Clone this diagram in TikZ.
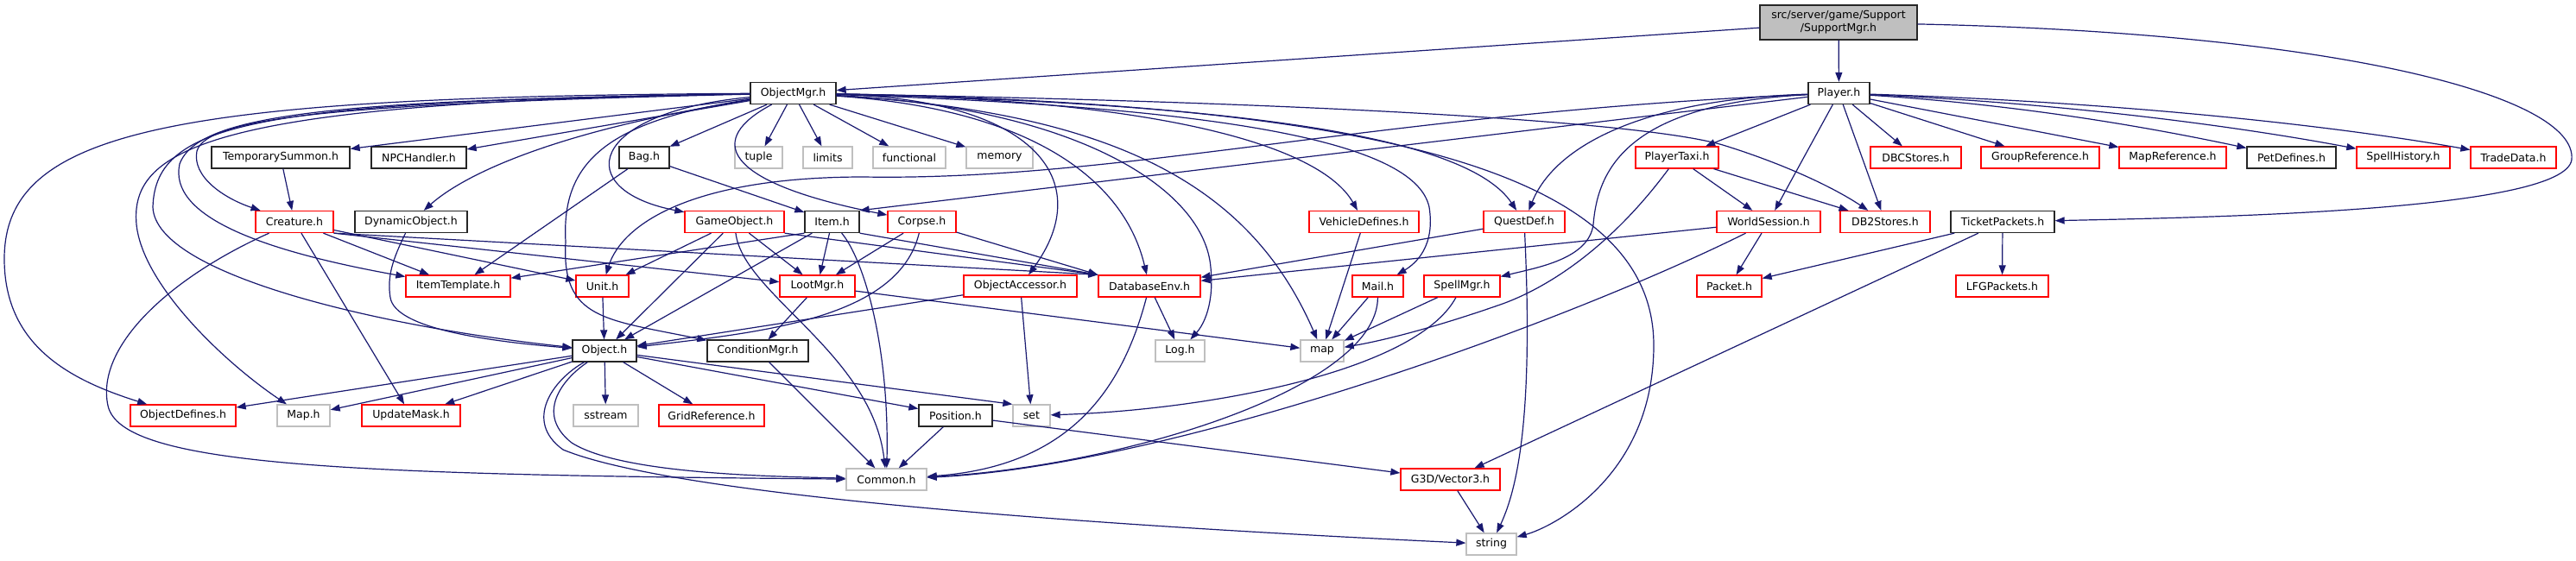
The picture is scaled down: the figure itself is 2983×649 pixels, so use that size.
\documentclass[tikz,border=0pt]{standalone}
\usepackage{fontspec}
\setmainfont{DejaVu Sans}
\usetikzlibrary{arrows.meta}
\definecolor{navy}{HTML}{191970}
\definecolor{gray75}{HTML}{BFBFBF}
\begin{document}
\begin{tikzpicture}[x=1pt,y=-1pt,
  box/.style={draw, line width=1.3pt, fill=white, minimum height=25pt, inner sep=0pt, font=\fontsize{12.5}{15}\selectfont, text=black},
  bk/.style={box, draw=black!85},
  rd/.style={box, draw=red},
  gy/.style={box, draw=gray75},
  ar/.style={draw=navy, line width=1.2pt, -{Triangle[length=11pt,width=8pt]}}
]
\fill[white] (0,0) rectangle (2983,649);
\useasboundingbox (0,0) rectangle (2983,649);
% nodes
\node[bk, minimum width=182pt, minimum height=40pt, fill=gray75, align=center] (sup) at (2129,26) {src/server/game/Support\\/SupportMgr.h};
\node[bk, minimum width=99pt] (om) at (918.5,108) {ObjectMgr.h};
\node[bk, minimum width=71pt] (pl) at (2129.5,108) {Player.h};
\node[bk, minimum width=160pt] (ts) at (325,182.5) {TemporarySummon.h};
\node[bk, minimum width=110pt] (npc) at (485,182.5) {NPCHandler.h};
\node[bk, minimum width=58pt] (bag) at (746,182.5) {Bag.h};
\node[gy, minimum width=55pt] (tup) at (878.5,182.5) {tuple};
\node[gy, minimum width=57pt] (lim) at (958.5,182.5) {limits};
\node[gy, minimum width=84pt] (fun) at (1053,182.5) {functional};
\node[gy, minimum width=77pt] (mem) at (1157.5,182.5) {memory};
\node[rd, minimum width=96pt] (ptx) at (1942,182.5) {PlayerTaxi.h};
\node[rd, minimum width=105pt] (dbc) at (2218.5,182.5) {DBCStores.h};
\node[rd, minimum width=137pt] (grp) at (2362.5,182.5) {GroupReference.h};
\node[rd, minimum width=124pt] (mapr) at (2516,182.5) {MapReference.h};
\node[bk, minimum width=103pt] (pet) at (2653.5,182.5) {PetDefines.h};
\node[rd, minimum width=108pt] (sph) at (2783,182.5) {SpellHistory.h};
\node[rd, minimum width=99pt] (trd) at (2910.5,182.5) {TradeData.h};
\node[rd, minimum width=90pt] (cr) at (341,257) {Creature.h};
\node[bk, minimum width=130pt] (dyn) at (476,257) {DynamicObject.h};
\node[rd, minimum width=115pt] (go) at (850.5,257) {GameObject.h};
\node[bk, minimum width=63pt] (item) at (963.5,257) {Item.h};
\node[rd, minimum width=79pt] (co) at (1067.5,257) {Corpse.h};
\node[rd, minimum width=127pt] (vd) at (1579.5,257) {VehicleDefines.h};
\node[rd, minimum width=94pt] (qd) at (1765,257) {QuestDef.h};
\node[rd, minimum width=120pt] (ws) at (2048,257) {WorldSession.h};
\node[rd, minimum width=104pt] (db2) at (2183,257) {DB2Stores.h};
\node[bk, minimum width=120pt] (tp) at (2319,257) {TicketPackets.h};
\node[rd, minimum width=121pt] (it) at (530.5,331.5) {ItemTemplate.h};
\node[rd, minimum width=61pt] (unit) at (697.5,331.5) {Unit.h};
\node[rd, minimum width=87pt] (lm) at (946.5,331.5) {LootMgr.h};
\node[rd, minimum width=131pt] (oa) at (1181.5,331.5) {ObjectAccessor.h};
\node[rd, minimum width=118pt] (db) at (1331,331.5) {DatabaseEnv.h};
\node[rd, minimum width=59pt] (mail) at (1595.5,331.5) {Mail.h};
\node[rd, minimum width=88pt] (sm) at (1693,331.5) {SpellMgr.h};
\node[rd, minimum width=75pt] (pk) at (2002.5,331.5) {Packet.h};
\node[rd, minimum width=107pt] (lfg) at (2318.5,331.5) {LFGPackets.h};
\node[bk, minimum width=74pt] (obj) at (700,406.5) {Object.h};
\node[bk, minimum width=117pt] (cm) at (877.5,406.5) {ConditionMgr.h};
\node[gy, minimum width=57pt] (log) at (1366.5,406.5) {Log.h};
\node[gy, minimum width=50pt] (map) at (1531,406.5) {map};
\node[rd, minimum width=122pt] (od) at (212,481.5) {ObjectDefines.h};
\node[gy, minimum width=61pt] (maph) at (351.5,481.5) {Map.h};
\node[rd, minimum width=114pt] (um) at (476,481.5) {UpdateMask.h};
\node[gy, minimum width=75pt] (sst) at (701.5,481.5) {sstream};
\node[rd, minimum width=122pt] (grid) at (824,481.5) {GridReference.h};
\node[bk, minimum width=85pt] (pos) at (1106.5,481.5) {Position.h};
\node[gy, minimum width=43pt] (set) at (1194.5,481.5) {set};
\node[gy, minimum width=93pt] (com) at (1026.5,555.5) {Common.h};
\node[rd, minimum width=115pt] (g3d) at (1679.5,555.5) {G3D/Vector3.h};
\node[gy, minimum width=58pt] (str) at (1727,630.5) {string};
% SupportMgr
\draw[ar] (sup) -- (om);
\draw[ar] (sup) -- (pl);
\draw[ar] (sup) .. controls (2700,38) and (2985,110) .. (2978,185) .. controls (2970,245) and (2550,252) .. (tp);
% ObjectMgr
\draw[ar] (om) -- (ts);
\draw[ar] (om) -- (npc);
\draw[ar] (om) .. controls (400,120) and (240,135) .. (228,175) .. controls (222,205) and (260,230) .. (cr);
\draw[ar] (om) .. controls (650,150) and (540,200) .. (dyn);
\draw[ar] (om) -- (bag);
\draw[ar] (om) -- (tup);
\draw[ar] (om) -- (lim);
\draw[ar] (om) -- (fun);
\draw[ar] (om) -- (mem);
\draw[ar] (om) .. controls (680,130) and (660,220) .. (go);
\draw[ar] (om) .. controls (820,160) and (830,210) .. (co);
\draw[ar] (om) .. controls (400,116) and (230,130) .. (208,190) .. controls (195,250) and (300,290) .. (it);
\draw[ar] (om) .. controls (300,118) and (180,140) .. (177,240) .. controls (180,320) and (450,380) .. (obj);
\draw[ar] (om) .. controls (200,112) and (5,150) .. (5,300) .. controls (5,400) and (80,440) .. (od);
\draw[ar] (om) .. controls (250,118) and (150,170) .. (158,260) .. controls (165,330) and (260,420) .. (maph);
\draw[ar] (om) .. controls (700,140) and (650,190) .. (655,280) .. controls (650,370) and (700,370) .. (cm);
\draw[ar] (om) .. controls (1200,115) and (1270,210) .. (oa);
\draw[ar] (om) .. controls (1180,125) and (1300,200) .. (db);
\draw[ar] (om) .. controls (1250,125) and (1395,220) .. (1402,310) .. controls (1406,350) and (1395,375) .. (log);
\draw[ar] (om) .. controls (1350,115) and (1530,170) .. (vd);
\draw[ar] (om) .. controls (1450,120) and (1700,160) .. (qd);
\draw[ar] (om) .. controls (1450,125) and (1640,170) .. (1655,240) .. controls (1662,285) and (1640,305) .. (mail);
\draw[ar] (om) .. controls (1500,118) and (1900,140) .. (1995,168) .. controls (2060,188) and (2120,215) .. (db2);
\draw[ar] (om) .. controls (1300,130) and (1450,220) .. (map);
\draw[ar] (om) .. controls (1600,120) and (1915,200) .. (1915,400) .. controls (1915,550) and (1800,610) .. (str);
% Player
\draw[ar] (pl) -- (ptx);
\draw[ar] (pl) -- (ws);
\draw[ar] (pl) -- (db2);
\draw[ar] (pl) -- (dbc);
\draw[ar] (pl) -- (grp);
\draw[ar] (pl) -- (mapr);
\draw[ar] (pl) .. controls (2350,122) and (2500,150) .. (pet);
\draw[ar] (pl) .. controls (2400,120) and (2600,148) .. (sph);
\draw[ar] (pl) .. controls (2450,118) and (2700,145) .. (trd);
\draw[ar] (pl) .. controls (1900,115) and (1800,170) .. (qd);
\draw[ar] (pl) .. controls (1880,120) and (1850,200) .. (1845,260) .. controls (1840,300) and (1780,310) .. (sm);
\draw[ar] (pl) -- (item.north east);
\draw[ar] (pl) .. controls (1600,130) and (1300,210) .. (1000,205) .. controls (800,205) and (720,260) .. (unit);
% PlayerTaxi, WorldSession, QuestDef ...
\draw[ar] (ptx) -- (ws);
\draw[ar] (ptx) -- (db2);
\draw[ar] (ptx) .. controls (1870,280) and (1800,330) .. (1740,352) .. controls (1660,380) and (1600,395) .. (map);
\draw[ar] (ws) -- (pk);
\draw[ar] (ws) -- (db);
\draw[ar] (ws) .. controls (1800,380) and (1350,540) .. (com);
\draw[ar] (qd) -- (db);
\draw[ar] (qd) .. controls (1775,470) and (1760,560) .. (str);
\draw[ar] (vd) -- (map);
\draw[ar] (mail) -- (map);
\draw[ar] (mail) .. controls (1595,450) and (1300,540) .. (com);
\draw[ar] (sm) -- (map);
\draw[ar] (sm) .. controls (1640,430) and (1400,475) .. (set);
\draw[ar] (tp) -- (pk);
\draw[ar] (tp) -- (lfg);
\draw[ar] (tp) -- (g3d);
\draw[ar] (g3d) -- (str);
\draw[ar] (pos) -- (g3d);
\draw[ar] (pos) -- (com);
\draw[ar] (oa) -- (set);
\draw[ar] (oa) -- (obj);
\draw[ar] (db) -- (log);
\draw[ar] (db) .. controls (1300,450) and (1240,540) .. (com);
\draw[ar] (lm) -- (cm);
\draw[ar] (lm) -- (map);
\draw[ar] (cm) -- (com);
% GameObject, Item, Corpse, Bag
\draw[ar] (go) -- (unit);
\draw[ar] (go) -- (obj);
\draw[ar] (go) -- (lm);
\draw[ar] (go) .. controls (860,340) and (1010,410) .. (com);
\draw[ar] (go.south east) -- (db.north west);
\draw[ar] (item.south west) -- (it);
\draw[ar] (item) -- (obj);
\draw[ar] (item) -- (lm);
\draw[ar] (item) .. controls (1000,300) and (1030,400) .. (com);
\draw[ar] (item.south east) -- (db.north west);
\draw[ar] (co) -- (lm);
\draw[ar] (co) .. controls (1040,370) and (880,385) .. (obj);
\draw[ar] (co) -- (db.north west);
\draw[ar] (bag) -- (item);
\draw[ar] (bag) -- (it);
\draw[ar] (ts) -- (cr);
\draw[ar] (dyn) .. controls (455,300) and (448,320) .. (452,345) .. controls (458,380) and (560,395) .. (obj);
% Creature
\draw[ar] (cr) -- (it);
\draw[ar] (cr) -- (unit);
\draw[ar] (cr.south east) -- (lm);
\draw[ar] (cr.south east) -- (db.north west);
\draw[ar] (cr) -- (um);
\draw[ar] (cr) .. controls (200,320) and (110,400) .. (125,470) .. controls (140,540) and (400,550) .. (com);
\draw[ar] (unit) -- (obj);
% Object
\draw[ar] (obj) -- (od);
\draw[ar] (obj) -- (maph);
\draw[ar] (obj) -- (um);
\draw[ar] (obj) -- (sst);
\draw[ar] (obj) -- (grid);
\draw[ar] (obj) -- (pos);
\draw[ar] (obj) -- (set.north west);
\draw[ar] (obj) .. controls (650,440) and (620,480) .. (662,513) .. controls (720,550) and (900,552) .. (com);
\draw[ar] (obj) .. controls (640,440) and (606,488) .. (652,521) .. controls (800,582) and (1400,615) .. (str);
\end{tikzpicture}
\end{document}
